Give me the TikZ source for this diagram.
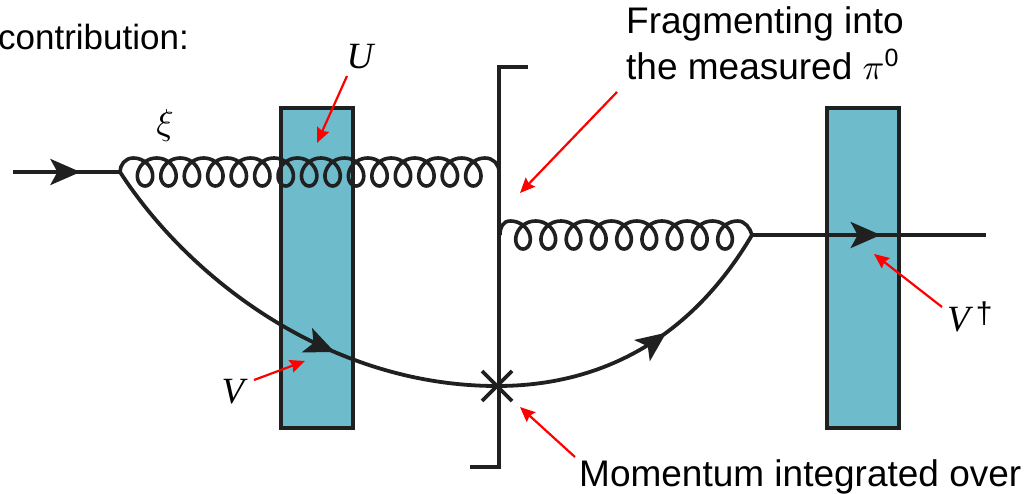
\documentclass[tikz,border=0pt]{standalone}
\usepackage{graphicx}
\usepackage{fontspec}
\setmainfont{Liberation Sans}
\newfontfamily\italfont{Liberation Serif}
\usetikzlibrary{arrows.meta, decorations.markings}
\definecolor{wallteal}{RGB}{110,187,204}
\definecolor{inkdark}{RGB}{32,32,32}
% big letter from the math font
\newcommand{\bigmath}[1]{\scalebox{3.6}{\fontsize{10}{12}\selectfont$#1$}}

\begin{document}
\begin{tikzpicture}[x=1pt, y=-1pt,
  wall/.style={draw=inkdark, fill=wallteal, line width=4pt, minimum width=72pt, minimum height=320pt, inner sep=0pt},
  quark/.style={draw=inkdark, line width=3.8pt},
  quarkmid/.style={quark, postaction={decorate}, decoration={markings,
      mark=at position #1 with {\arrow{Stealth[length=30pt, width=26pt, inset=7pt]}}}},
  gluon/.style={draw=inkdark, line width=3.6pt},
  cutline/.style={draw=inkdark, line width=3.8pt},
  redarrow/.style={draw=red, line width=2.2pt, -{Stealth[length=15pt, width=13pt, inset=2pt]}},
  lbl/.style={font=\fontsize{37}{44}\selectfont, inner sep=0pt},
  lblcoil/.style={font=\italfont\itshape\fontsize{37}{40}\selectfont, inner sep=0pt}
]
\useasboundingbox (0,0) rectangle (1028,494);

% the two walls
\node[wall] (wallleft) at (317,268) {};
\node[wall] (wallright) at (862.5,268) {};

% vertices and ends
\coordinate (qin) at (13,172);
\coordinate (vtxa) at (120,172);
\coordinate (vtxb) at (752,235);
\coordinate (qout) at (986,235);
\coordinate (cross) at (497,386);
\coordinate (cuttop) at (499,67);
\coordinate (cutbot) at (499,467);
\coordinate (ticktop) at (528,67);
\coordinate (tickbot) at (470,467);
\coordinate (glend) at (499,172);
\coordinate (glstart) at (500,235);

% cut
\draw[cutline] (ticktop) -- (cuttop) -- (cutbot) -- (tickbot);
\draw[cutline] ([xshift=-15pt,yshift=15pt]cross) -- ([xshift=15pt,yshift=-15pt]cross);
\draw[cutline] ([xshift=-15pt,yshift=-15pt]cross) -- ([xshift=15pt,yshift=15pt]cross);

% quark lines
\path[quarkmid=0.63] (qin) -- (vtxa);
\path[quarkmid=0.55] (vtxb) -- (qout);
\path[quarkmid=0.63] (vtxa) .. controls (190,280) and (330,386) .. (cross);
\path[quarkmid=0.58] (cross) .. controls (600,386) and (690,340) .. (vtxb);

% gluons
\draw[gluon] (vtxa) .. controls (120,165) and (125,158) .. (133.3,158)
  -- plot[domain=0:5400, samples=601, variable=\t] ({133.3+\t/360*23.45+13*sin(\t)},{172-14*cos(\t)})
  .. controls (493,158) and (499,164) .. (glend);
\draw[gluon] (glstart) .. controls (500,227) and (503,221) .. (510.4,221)
  -- plot[domain=0:3240, samples=361, variable=\t] ({510.4+\t/360*25.25+13*sin(\t)},{235-14*cos(\t)})
  .. controls (745,221) and (750,228) .. (vtxb);

% labels
\node[lbl, anchor=base east, font=\fontsize{35}{42}\selectfont] (contrib) at (189,50) {contribution:};
\node[lbl, anchor=base west] (fragtext) at (626,34) {Fragmenting into};
\node[lbl, anchor=base west] (fragtextb) at (626,80) {the measured \bigmath{\pi}\raisebox{13pt}{\fontsize{25}{25}\selectfont 0}};
\node[lbl, anchor=base west] (momtext) at (579,486) {Momentum integrated over};
\node[lblcoil] (labu) at (360,57) {U};
\node[lblcoil] (labv) at (233,392) {V};
\node[lblcoil, anchor=base west] (labvd) at (947,331) {V\,\raisebox{8pt}{\fontsize{30}{30}\selectfont\rmfamily\upshape\textdagger}};
\node[inner sep=0pt] (labxi) at (165,126) {\bigmath{\xi}};

% red pointers
\coordinate (ptu) at (317,143);
\coordinate (ptfrag) at (520,193);
\coordinate (ptmom) at (520,407);
\coordinate (ptv) at (305,361);
\coordinate (ptvd) at (874,254);
\coordinate (fromu) at (347,76);
\coordinate (fromfrag) at (617,92);
\coordinate (frommom) at (575,457);
\coordinate (fromv) at (254,380);
\coordinate (fromvd) at (942,307);
\draw[redarrow] (fromu) -- (ptu);
\draw[redarrow] (fromfrag) -- (ptfrag);
\draw[redarrow] (frommom) -- (ptmom);
\draw[redarrow] (fromv) -- (ptv);
\draw[redarrow] (fromvd) -- (ptvd);
\end{tikzpicture}
\end{document}
